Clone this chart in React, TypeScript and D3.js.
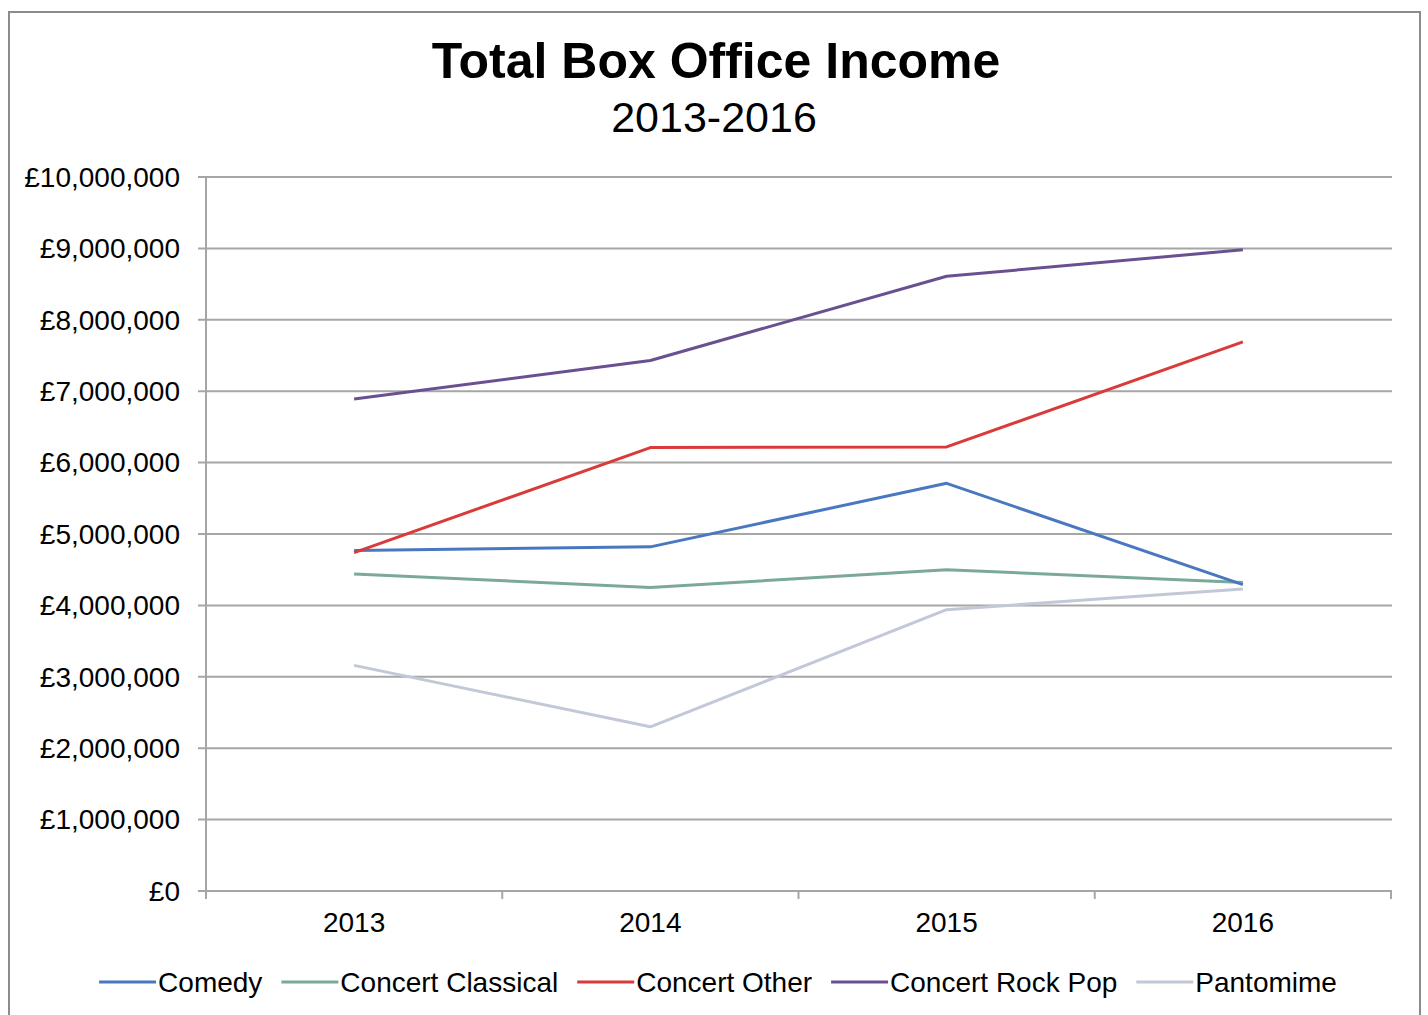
import React, { useEffect, useRef } from "react";
import * as d3 from "d3";

const years = ["2013", "2014", "2015", "2016"];
const seriesNames = ["Comedy", "Concert Classical", "Concert Other", "Concert Rock Pop", "Pantomime"];
const comedy = [4770000, 4820000, 5710000, 4290000];
const concertClassical = [4440000, 4250000, 4500000, 4320000];
const concertOther = [4740000, 6210000, 6220000, 7690000];
const concertRockPop = [6890000, 7430000, 8610000, 8980000];
const pantomime = [3160000, 2300000, 3940000, 4230000];
const seriesValues = [comedy, concertClassical, concertOther, concertRockPop, pantomime];
const seriesColors = ["#4a78c0", "#7aa99c", "#d93a3a", "#6a5090", "#c3c8d8"];
const yTicks = [0, 1000000, 2000000, 3000000, 4000000, 5000000, 6000000, 7000000, 8000000, 9000000, 10000000];
const titleText = "Total Box Office Income";
const subtitleText = "2013-2016";

const W = 1428;
const H = 1015;
const FONT = "'Liberation Sans', Arial, sans-serif";

export default function App() {
  const ref = useRef<SVGSVGElement | null>(null);

  useEffect(() => {
    const svg = d3.select(ref.current);
    svg.selectAll("*").remove();

    const left = 206, right = 1391, top = 177, bottom = 891;
    const x = d3.scaleBand<string>().domain(years).range([left, right]).padding(0);
    const y = d3.scaleLinear().domain([0, 10000000]).range([bottom, top]);
    const fmt = (v: number) => "£" + d3.format(",")(v);

    // outer border
    svg.append("rect")
      .attr("x", 9).attr("y", 12).attr("width", 1411).attr("height", 1010)
      .attr("fill", "#fff").attr("stroke", "#8c8c8c").attr("stroke-width", 2);

    // title
    svg.append("text")
      .attr("x", 716).attr("y", 78).attr("text-anchor", "middle")
      .attr("font-family", FONT).attr("font-weight", "bold").attr("font-size", 50)
      .attr("fill", "#000").text(titleText);
    svg.append("text")
      .attr("x", 714).attr("y", 132).attr("text-anchor", "middle")
      .attr("font-family", FONT).attr("font-size", 43)
      .attr("fill", "#000").text(subtitleText);

    // gridlines
    svg.append("g").selectAll("line").data(yTicks).join("line")
      .attr("x1", left - 8).attr("x2", right + 1)
      .attr("y1", (d) => y(d)).attr("y2", (d) => y(d))
      .attr("stroke", "#a6a6a6").attr("stroke-width", 2);

    // y axis line
    svg.append("line")
      .attr("x1", left).attr("x2", left).attr("y1", top).attr("y2", bottom + 8)
      .attr("stroke", "#a6a6a6").attr("stroke-width", 2);

    // y labels
    svg.append("g").selectAll("text").data(yTicks).join("text")
      .attr("x", 180).attr("y", (d) => y(d)).attr("dy", "0.35em")
      .attr("text-anchor", "end").attr("font-family", FONT).attr("font-size", 28)
      .attr("fill", "#000").text((d) => fmt(d));

    // x ticks at band boundaries
    const boundaries = years.map((yr) => x(yr) as number).concat([right]);
    svg.append("g").selectAll("line").data(boundaries).join("line")
      .attr("x1", (d) => d).attr("x2", (d) => d)
      .attr("y1", bottom).attr("y2", bottom + 8)
      .attr("stroke", "#a6a6a6").attr("stroke-width", 2);

    // x labels
    svg.append("g").selectAll("text").data(years).join("text")
      .attr("x", (d) => (x(d) as number) + x.bandwidth() / 2).attr("y", 932)
      .attr("text-anchor", "middle").attr("font-family", FONT).attr("font-size", 28)
      .attr("fill", "#000").text((d) => d);

    // lines
    const line = d3.line<number>()
      .x((_, i) => (x(years[i]) as number) + x.bandwidth() / 2)
      .y((d) => y(d));
    const order = [4, 1, 0, 2, 3];
    svg.append("g").selectAll("path").data(order).join("path")
      .attr("d", (k) => line(seriesValues[k]) as string)
      .attr("fill", "none").attr("stroke", (k) => seriesColors[k])
      .attr("stroke-width", 3).attr("stroke-linejoin", "round");

    // legend
    const lg = svg.append("g");
    const sampleLen = 57, gapText = 2, gapItem = 19;
    const items = seriesNames.map((name, i) => {
      const g = lg.append("g");
      g.append("line").attr("x1", 0).attr("x2", sampleLen).attr("y1", 0).attr("y2", 0)
        .attr("stroke", seriesColors[i]).attr("stroke-width", 3);
      const t = g.append("text").attr("x", sampleLen + gapText).attr("y", 0).attr("dy", "0.35em")
        .attr("font-family", FONT).attr("font-size", 28).attr("fill", "#000").text(name);
      const w = (t.node() as SVGTextElement).getComputedTextLength();
      return { g, w: sampleLen + gapText + w };
    });
    const total = d3.sum(items, (d) => d.w) + gapItem * (items.length - 1);
    let cx = 718 - total / 2;
    items.forEach((it) => {
      it.g.attr("transform", `translate(${cx},982)`);
      cx += it.w + gapItem;
    });
  }, []);

  return (
    <svg
      ref={ref}
      width={W}
      height={H}
      style={{ position: "absolute", left: 0, top: 0, background: "#fff" }}
    />
  );
}
